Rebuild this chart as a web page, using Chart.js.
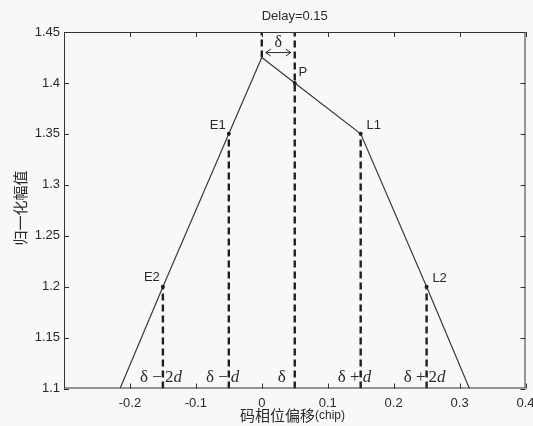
<!DOCTYPE html>
<html>
<head>
<meta charset="utf-8">
<script src="https://cdn.jsdelivr.net/npm/chart.js@4.4.0/dist/chart.umd.min.js"></script>
<style>
  html, body { margin: 0; padding: 0; background: #f8f8f6; }
  canvas { display: block; }
</style>
</head>
<body>
<canvas id="c" width="533" height="426"></canvas>
<script>
// Combined early/prompt/late correlation curve, normalised amplitude vs code phase offset
const curveX = [-0.215, -0.15, -0.05, 0, 0.05, 0.15, 0.25, 0.315];
const curveY = [1.1, 1.2, 1.35, 1.425, 1.4, 1.35, 1.2, 1.1];

// Correlator taps
const markerNames = ['E2', 'E1', 'P', 'L1', 'L2'];
const markerX = [-0.15, -0.05, 0.05, 0.15, 0.25];
const markerY = [1.2, 1.35, 1.4, 1.35, 1.2];

// Dashed guides (x, from y, to y)
const guideX = [-0.15, -0.05, 0, 0.05, 0.15, 0.25];
const guideFrom = [1.1, 1.1, 1.425, 1.1, 1.1, 1.1];
const guideTo = [1.2, 1.35, 1.45, 1.45, 1.35, 1.2];

// Offset labels along the bottom, one per tap
const offsetLabels = ['δ −2d', 'δ −d', 'δ', 'δ +d', 'δ +2d'];

const xTicks = [-0.3, -0.2, -0.1, 0, 0.1, 0.2, 0.3, 0.4];
const xTickLabels = ['', '-0.2', '-0.1', '0', '0.1', '0.2', '0.3', '0.4'];
const yTicks = [1.1, 1.15, 1.2, 1.25, 1.3, 1.35, 1.4, 1.45];
const yTickLabels = ['1.1', '1.15', '1.2', '1.25', '1.3', '1.35', '1.4', '1.45'];

const delayValue = 0.15;
const deltaSpan = [0, 0.05];   // δ between peak and prompt

const SANS = '"Liberation Sans", Arial, sans-serif';
const SERIF = '"Liberation Serif", "Times New Roman", serif';
const CJK = '"Noto Sans CJK SC", sans-serif';
const INK = '#2a2a2a';

const toPts = (xs, ys) => xs.map((x, i) => ({ x: x, y: ys[i] }));

const datasets = [];
guideX.forEach((gx, i) => {
  datasets.push({
    data: [{ x: gx, y: guideFrom[i] }, { x: gx, y: guideTo[i] }],
    showLine: true, borderColor: '#1e1e1e', borderWidth: 2.4,
    borderDash: [7, 4], pointRadius: 0, order: 3
  });
});
datasets.push({
  data: toPts(curveX, curveY), showLine: true, borderColor: '#3a3a3a',
  borderWidth: 1.2, pointRadius: 0, tension: 0, order: 2
});
datasets.push({
  data: toPts(markerX, markerY), showLine: false, pointRadius: 2,
  pointBackgroundColor: '#1e1e1e', pointBorderWidth: 0, order: 1
});

// Label offsets in pixels relative to each tap marker
const nameOffset = { E2: [-11, -9], E1: [-11, -8], P: [8, -11], L1: [13, -8], L2: [13, -8] };

const decor = {
  id: 'decor',
  beforeDraw(chart) {
    const c = chart.ctx;
    c.save();
    c.fillStyle = '#f8f8f6';
    c.fillRect(0, 0, chart.width, chart.height);
    c.restore();
  },
  afterDraw(chart) {
    const c = chart.ctx;
    const a = chart.chartArea;
    const xs = chart.scales.x, ys = chart.scales.y;
    c.save();

    // frame with inward ticks on all four sides
    c.strokeStyle = '#333';
    c.lineWidth = 1;
    c.strokeRect(a.left + 0.5, a.top + 0.5, a.right - a.left - 1, a.bottom - a.top - 1);
    c.beginPath();
    xTicks.forEach(v => {
      const px = Math.round(xs.getPixelForValue(v)) + 0.5;
      c.moveTo(px, a.bottom); c.lineTo(px, a.bottom - 5);
      c.moveTo(px, a.top); c.lineTo(px, a.top + 5);
    });
    yTicks.forEach(v => {
      const py = Math.round(ys.getPixelForValue(v)) + 0.5;
      c.moveTo(a.left, py); c.lineTo(a.left + 5, py);
      c.moveTo(a.right, py); c.lineTo(a.right - 5, py);
    });
    c.stroke();

    // title
    c.fillStyle = INK;
    c.font = '13px ' + SANS;
    c.textAlign = 'center';
    c.textBaseline = 'middle';
    c.fillText('Delay=' + delayValue, (a.left + a.right) / 2, 16);

    // tap names
    markerNames.forEach((n, i) => {
      const px = xs.getPixelForValue(markerX[i]);
      const py = ys.getPixelForValue(markerY[i]);
      const o = nameOffset[n];
      c.fillText(n, px + o[0], py + o[1]);
    });

    // δ spacing arrow between peak and prompt
    const ax0 = xs.getPixelForValue(deltaSpan[0]) + 4;
    const ax1 = xs.getPixelForValue(deltaSpan[1]) - 4;
    const ay = ys.getPixelForValue(1.4298);
    c.strokeStyle = INK;
    c.lineWidth = 1;
    c.beginPath();
    c.moveTo(ax0, ay); c.lineTo(ax1, ay);
    c.moveTo(ax0 + 5, ay - 3.5); c.lineTo(ax0, ay); c.lineTo(ax0 + 5, ay + 3.5);
    c.moveTo(ax1 - 5, ay - 3.5); c.lineTo(ax1, ay); c.lineTo(ax1 - 5, ay + 3.5);
    c.stroke();
    c.font = '16px ' + SERIF;
    c.fillText('δ', (ax0 + ax1) / 2, ay - 10);

    // bottom offset labels: operator ends at the guide, multiple + italic d after it
    const ly = a.bottom - 11;
    offsetLabels.forEach((t, i) => {
      const gx = xs.getPixelForValue(markerX[i]);
      const m = t.match(/^(δ\s*[−+]?)(\d*)(d?)$/);
      const pre = m[1], num = m[2], it = m[3];
      c.textBaseline = 'middle';
      c.font = '17px ' + SERIF;
      if (!num && !it) {
        c.textAlign = 'right';
        c.fillText(pre, gx - 9, ly);
        return;
      }
      c.textAlign = 'right';
      c.fillText(pre, gx - 1, ly);
      c.textAlign = 'left';
      let x = gx + 2;
      if (num) { c.fillText(num, x, ly); x += c.measureText(num).width; }
      c.font = 'italic 17px ' + SERIF;
      c.fillText(it, x, ly);
    });

    // axis titles
    c.textAlign = 'left';
    c.textBaseline = 'middle';
    c.font = '15px ' + CJK;
    const main = '码相位偏移';
    const wMain = c.measureText(main).width;
    c.font = '12px ' + SANS;
    const unit = '(chip)';
    const wUnit = c.measureText(unit).width;
    let tx = 292.5 - (wMain + wUnit) / 2;
    c.font = '15px ' + CJK;
    c.fillText(main, tx, 415);
    c.font = '12px ' + SANS;
    c.fillText(unit, tx + wMain, 416);

    c.translate(20, 208);
    c.rotate(-Math.PI / 2);
    c.textAlign = 'center';
    c.font = '15px ' + CJK;
    c.fillText('归一化幅值', 0, 0);
    c.restore();
  }
};

new Chart(document.getElementById('c'), {
  type: 'scatter',
  data: { datasets: datasets },
  options: {
    responsive: false,
    devicePixelRatio: 1,
    animation: false,
    layout: { padding: { top: 32, right: 7.5, left: 0, bottom: 0 } },
    plugins: { legend: { display: false }, tooltip: { enabled: false }, title: { display: false } },
    scales: {
      x: {
        type: 'linear', min: -0.3, max: 0.4,
        afterBuildTicks: s => { s.ticks = xTicks.map(v => ({ value: v })); },
        afterFit: s => { s.height = 37.5; s.paddingLeft = 0; s.paddingRight = 0; },
        ticks: {
          callback: (v, i) => xTickLabels[i], autoSkip: false, maxRotation: 0,
          padding: 7, color: INK, font: { family: SANS, size: 13 }
        },
        grid: { display: false, drawTicks: false },
        border: { display: false }
      },
      y: {
        type: 'linear', min: 1.1, max: 1.45,
        afterBuildTicks: s => { s.ticks = yTicks.map(v => ({ value: v })); },
        afterFit: s => { s.width = 64; s.paddingTop = 0; s.paddingBottom = 0; },
        ticks: {
          callback: (v, i) => yTickLabels[i], autoSkip: false,
          padding: 4, color: INK, font: { family: SANS, size: 13 }
        },
        grid: { display: false, drawTicks: false },
        border: { display: false }
      }
    }
  },
  plugins: [decor]
});
</script>
</body>
</html>
